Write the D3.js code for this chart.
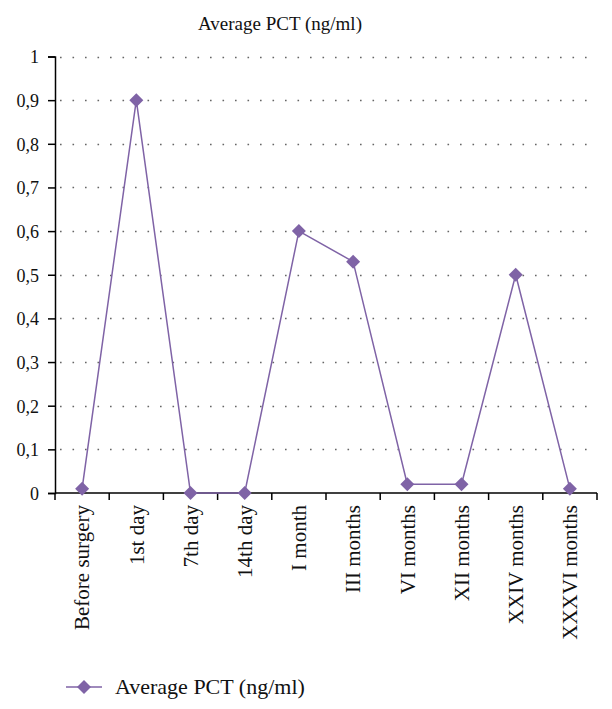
<!DOCTYPE html>
<html>
<head>
<meta charset="utf-8">
<script src="https://cdn.jsdelivr.net/npm/d3@7"></script>
<style>
body { margin: 0; background: #fff; }
svg text { font-family: "Liberation Serif", "DejaVu Serif", serif !important; fill: #111; }
</style>
</head>
<body>
<div id="chart"></div>
<script>
var categories = ["Before surgery", "1st day", "7th day", "14th day", "I month",
  "III months", "VI months", "XII months", "XXIV months", "XXXVI months"];
var values = [0.01, 0.9, 0, 0, 0.6, 0.53, 0.02, 0.02, 0.5, 0.01];
var yTicks = [0, 0.1, 0.2, 0.3, 0.4, 0.5, 0.6, 0.7, 0.8, 0.9, 1];
var seriesName = "Average PCT (ng/ml)";

var width = 612, height = 709,
  marginLeft = 55, marginRight = 597, plotTop = 56.5, plotBottom = 493,
  purple = "#7f63a6";

var svg = d3.select("#chart").append("svg")
  .attr("width", width)
  .attr("height", height);

var x = d3.scaleBand().domain(categories).range([marginLeft, marginRight]);
var y = d3.scaleLinear().domain([0, 1]).range([plotBottom, plotTop]);

// title
svg.append("text")
  .attr("x", 280).attr("y", 30)
  .attr("text-anchor", "middle")
  .style("font-size", "19px")
  .text(seriesName);

// dotted grid
svg.append("g").selectAll("line")
  .data(yTicks.slice(1))
  .enter().append("line")
  .attr("x1", marginLeft + 5).attr("x2", marginRight)
  .attr("y1", function(d) { return Math.round(y(d)) + 0.5; })
  .attr("y2", function(d) { return Math.round(y(d)) + 0.5; })
  .style("stroke", "#666")
  .style("stroke-width", 1.6)
  .style("stroke-dasharray", "1.6,10.9");

// y axis
var yAxis = svg.append("g")
  .attr("transform", "translate(" + marginLeft + ",0)")
  .call(d3.axisLeft(y).tickValues(yTicks).tickSize(7).tickPadding(9)
    .tickFormat(function(d) { return d3.format("~g")(d).replace(".", ","); }));
yAxis.attr("font-family", null);
yAxis.selectAll("text")
  .style("font-size", "18px")
  .attr("dy", "0.35em");

// x axis
var xAxis = svg.append("g")
  .attr("transform", "translate(0," + plotBottom + ")")
  .call(d3.axisBottom(x).tickSize(0).tickFormat(""));
xAxis.attr("font-family", null);
xAxis.select(".domain").attr("d", "M" + marginLeft + ",0H" + marginRight);
xAxis.selectAll(".tick").remove();

var tickPos = categories.map(function(c) { return x(c); }).concat([marginRight]);
xAxis.selectAll(".xt")
  .data(tickPos)
  .enter().append("line")
  .attr("x1", function(d) { return d; })
  .attr("x2", function(d) { return d; })
  .attr("y1", 0).attr("y2", 7)
  .style("stroke", "#000")
  .style("stroke-width", 1.5);

xAxis.selectAll(".xl")
  .data(categories)
  .enter().append("text")
  .attr("transform", function(d) {
    return "translate(" + (x(d) + x.bandwidth() / 2) + ",12) rotate(-90)";
  })
  .attr("text-anchor", "end")
  .attr("dy", "0.35em")
  .style("font-size", "21px")
  .text(function(d) { return d; });

svg.selectAll(".domain, .tick line").style("stroke", "#000").style("stroke-width", 1.5);

// line
var line = d3.line()
  .x(function(d, i) { return x(categories[i]) + x.bandwidth() / 2; })
  .y(function(d) { return y(d); });

svg.append("path")
  .datum(values)
  .attr("d", line)
  .style("fill", "none")
  .style("stroke", purple)
  .style("stroke-width", 1.5);

var diamond = d3.symbol().type(d3.symbolDiamond2).size(125);
svg.selectAll(".pt")
  .data(values)
  .enter().append("path")
  .attr("d", diamond)
  .attr("transform", function(d, i) {
    return "translate(" + (x(categories[i]) + x.bandwidth() / 2) + "," + y(d) + ")";
  })
  .style("fill", purple);

// legend
var legend = svg.append("g").attr("transform", "translate(66,687)");
legend.append("line")
  .attr("x1", 0).attr("x2", 36)
  .style("stroke", purple).style("stroke-width", 1.5);
legend.append("path")
  .attr("d", diamond)
  .attr("transform", "translate(18,0)")
  .style("fill", purple);
legend.append("text")
  .attr("x", 49).attr("dy", "0.33em")
  .style("font-size", "22px")
  .text(seriesName);
</script>
</body>
</html>
